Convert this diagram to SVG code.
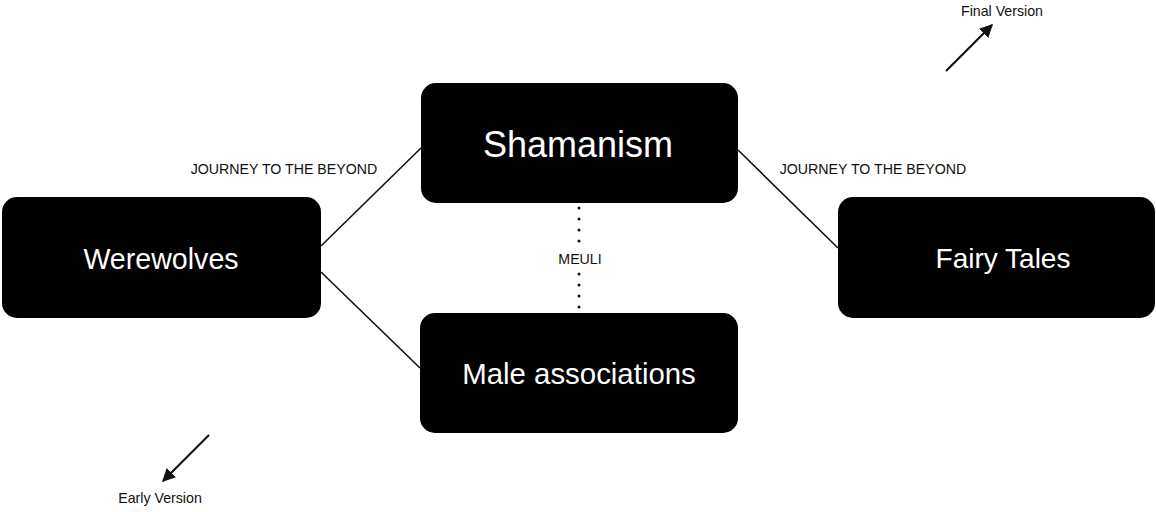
<svg xmlns="http://www.w3.org/2000/svg" width="1156" height="512" viewBox="0 0 1156 512">
<style>
.box{fill:#000;}
.nt{fill:#fff;font-family:"Liberation Sans",Arial,sans-serif;text-anchor:middle;}
.lbl{fill:#111;font-family:"Liberation Sans",Arial,sans-serif;font-size:14.2px;text-anchor:middle;}
.edge{stroke:#111;stroke-width:1.6;fill:none;}
.dot{stroke:#111;stroke-width:3;stroke-linecap:round;stroke-dasharray:0 11;fill:none;}
.arr{stroke:#111;stroke-width:2.2;fill:none;}
</style>
<defs>
<marker id="ah" viewBox="0 0 10 10" refX="9" refY="5" markerWidth="6" markerHeight="6" orient="auto" markerUnits="strokeWidth">
<path d="M0,0 L10,5 L0,10 z" fill="#111"/>
</marker>
</defs>
<rect width="1156" height="512" fill="#fff"/>
<g id="connectors">
<line class="edge" x1="321" y1="246" x2="421" y2="148"/>
<line class="edge" x1="321" y1="272" x2="420" y2="368"/>
<line class="edge" x1="738" y1="150" x2="838" y2="248"/>
<line class="dot" x1="579" y1="208" x2="579" y2="242"/>
<line class="dot" x1="579" y1="274" x2="579" y2="308"/>
<text class="lbl" x="284" y="174">JOURNEY TO THE BEYOND</text>
<text class="lbl" x="873" y="174">JOURNEY TO THE BEYOND</text>
<text class="lbl" x="580" y="264">MEULI</text>
</g>
<g id="node-shamanism">
<rect class="box" x="421" y="83" width="317" height="120" rx="15"/>
<text class="nt" x="578" y="157" font-size="36">Shamanism</text>
</g>
<g id="node-werewolves">
<rect class="box" x="2" y="197" width="319" height="121" rx="15"/>
<text class="nt" x="161" y="269" font-size="28.6">Werewolves</text>
</g>
<g id="node-male">
<rect class="box" x="420" y="313" width="318" height="120" rx="15"/>
<text class="nt" x="579" y="384" font-size="29.4">Male associations</text>
</g>
<g id="node-fairy">
<rect class="box" x="838" y="197" width="317" height="121" rx="15"/>
<text class="nt" x="1003" y="268" font-size="28">Fairy Tales</text>
</g>
<g id="legend-final">
<line class="arr" x1="946" y1="71" x2="992" y2="25" marker-end="url(#ah)"/>
<text class="lbl" x="1002" y="16">Final Version</text>
</g>
<g id="legend-early">
<line class="arr" x1="209" y1="435" x2="163" y2="481" marker-end="url(#ah)"/>
<text class="lbl" x="160" y="503">Early Version</text>
</g>
</svg>
